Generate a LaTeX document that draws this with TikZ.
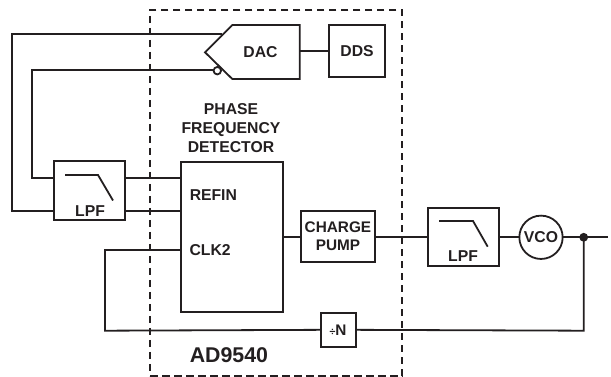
\documentclass[tikz,border=0pt]{standalone}
\usepackage{fontspec}
\setmainfont{Liberation Sans}
\definecolor{ink}{HTML}{231F20}
\tikzset{
  blk/.style={draw=ink,line width=1.35pt,fill=white,inner sep=0pt,outer sep=0pt,anchor=north west},
  wire/.style={draw=ink,line width=1.35pt},
  lbl/.style={text=ink,font=\fontsize{11.8}{13.5}\selectfont\bfseries,align=center,inner sep=0pt},
}
\begin{document}
\begin{tikzpicture}[x=0.75pt,y=-0.75pt]
\useasboundingbox (0,0) rectangle (611,377);
% outer dashed boundary
\node[draw=ink,line width=1.35pt,dash pattern=on 5.4pt off 3.6pt,minimum width=189pt,minimum height=274.5pt,inner sep=0pt,outer sep=0pt,anchor=north west] (chip) at (150.3,10) {};
% blocks
\node[blk,minimum width=42pt,minimum height=39pt] (dds) at (329,25) {};
\node[lbl] at (dds.center) {DDS};
\node[blk,minimum width=53.5pt,minimum height=43.8pt] (lpfa) at (54,161.3) {};
\node[blk,minimum width=76.3pt,minimum height=112.5pt] (pfd) at (181,162) {};
\node[blk,minimum width=55pt,minimum height=38.7pt] (cp) at (301.3,210.7) {};
\node[blk,minimum width=53.25pt,minimum height=43.5pt] (lpfb) at (427.7,207.7) {};
\node[blk,minimum width=26pt,minimum height=25.7pt] (divn) at (321,312.7) {};
\node[draw=ink,line width=1.35pt,circle,minimum size=32.5pt,inner sep=0pt,outer sep=0pt] (vco) at (541,237.3) {};
\node[lbl] at (vco.center) {VCO};
\node[lbl,font=\fontsize{11.5}{13.5}\selectfont\bfseries] at (cp.center) {CHARGE\\PUMP};
\node[lbl] at (338,330.7) {\fontsize{8}{9}\selectfont ÷\fontsize{11.5}{12}\selectfont N};
% DAC pentagon
\coordinate (dtip) at (205,52.3);
\coordinate (dtop) at (232.3,25);
\coordinate (dbot) at (232.3,79);
\coordinate (dtr) at (299.7,25);
\coordinate (dbr) at (299.7,79);
\draw[wire,line join=miter] (dtip) -- (dtop) -- (dtr) -- (dbr) -- (dbot) -- cycle;
\node[lbl] (daclbl) at (260.5,52.5) {DAC};
% labels
\node[lbl,font=\fontsize{11.8}{14.1}\selectfont\bfseries] at (231,128) {PHASE\\FREQUENCY\\DETECTOR};
\node[lbl,anchor=west] at (189.5,195) {REFIN};
\node[lbl,anchor=west] at (189.3,249.7) {CLK2};
\node[lbl,font=\fontsize{16}{18}\selectfont\bfseries,anchor=west] at (189.5,355) {AD9540};
\node[lbl] at (90,211) {LPF};
\node[lbl] at (463,256.5) {LPF};
% filter symbols
\draw[wire] (65,175) -- (98,175) -- (113,200.5);
\draw[wire] (439,221) -- (473,221) -- (487.7,246.7);
% wiring
\coordinate (aone) at (12.3,33.7);
\coordinate (atwo) at (12.3,210.7);
\coordinate (bone) at (31.7,70);
\coordinate (btwo) at (31.7,177.7);
\coordinate (cone) at (105,250);
\coordinate (ctwo) at (105,330.7);
\coordinate (outr) at (608,237.3);
\coordinate (junc) at (583.7,237.3);
\coordinate (back) at (583.7,330.7);
\draw[wire] (222,33.7) -- (aone) -- (atwo) -- (lpfa.west |- atwo);
\draw[wire] (213,70) -- (bone) -- (btwo) -- (lpfa.west |- btwo);
\draw[wire,fill=white] (217.3,70.7) circle (2.8pt);
\draw[wire] (lpfa.east |- btwo) -- (pfd.west |- btwo);
\draw[wire] (lpfa.east |- atwo) -- (pfd.west |- atwo);
\draw[wire] (dtr |- dds.west) -- (dds.west);
\draw[wire] (pfd.west |- cone) -- (cone) -- (ctwo) -- (divn.west);
\draw[wire] (pfd.east |- vco.west) -- (cp.west |- vco.west);
\draw[wire] (cp.east |- vco.west) -- (lpfb.west |- vco.west);
\draw[wire] (lpfb.east |- vco.west) -- (vco.west);
\draw[wire] (vco.east) -- (outr);
\draw[wire] (junc) -- (back) -- (divn.east);
\fill[ink] (junc) circle (3.3pt);
\end{tikzpicture}
\end{document}
